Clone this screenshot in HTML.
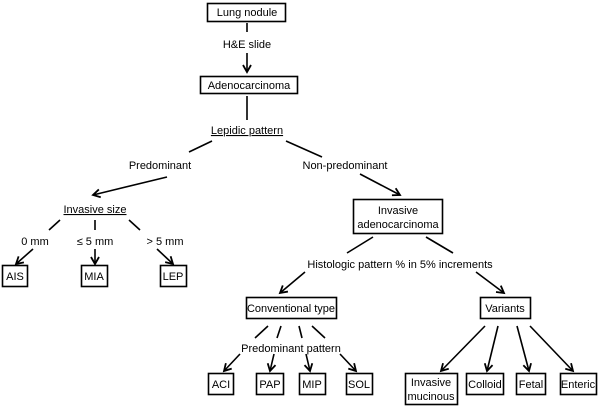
<!DOCTYPE html>
<html><head><style>
html,body{margin:0;padding:0;background:#fff;}
svg text{font-family:"Liberation Sans",Arial,sans-serif;font-size:11px;fill:#000;}
</style></head><body>
<svg width="600" height="408" viewBox="0 0 600 408" xmlns="http://www.w3.org/2000/svg">
<defs>
<marker id="a" markerWidth="10" markerHeight="10" refX="8" refY="5" orient="auto" markerUnits="userSpaceOnUse">
<path d="M1,1 L8,5 L1,9" fill="none" stroke="#000" stroke-width="1.8"/>
</marker>
</defs>
<g fill="none" stroke="#000" stroke-width="1.6">
<rect x="207.5" y="3.5" width="78" height="18"/>
<rect x="200.5" y="76.5" width="97" height="17"/>
<rect x="353.5" y="199.5" width="89" height="34"/>
<rect x="2.5" y="265.5" width="25" height="21"/>
<rect x="81.5" y="265.5" width="26" height="21"/>
<rect x="160.5" y="265.5" width="26" height="21"/>
<rect x="246.5" y="297.5" width="90" height="21"/>
<rect x="480.5" y="297.5" width="50" height="21"/>
<rect x="208.5" y="373.5" width="25" height="21"/>
<rect x="256.5" y="373.5" width="27" height="21"/>
<rect x="299.5" y="373.5" width="26" height="21"/>
<rect x="346.5" y="373.5" width="26" height="21"/>
<rect x="405.5" y="373.5" width="52" height="31"/>
<rect x="466.5" y="373.5" width="37" height="21"/>
<rect x="516.5" y="373.5" width="29" height="21"/>
<rect x="560.5" y="373.5" width="36" height="21"/>
</g>
<g stroke="#000" stroke-width="1.6" fill="none">
<line x1="247" y1="23" x2="247" y2="32"/>
<line x1="247" y1="53" x2="247" y2="72" marker-end="url(#a)"/>
<line x1="247" y1="96" x2="247" y2="120"/>
<line x1="212" y1="141" x2="189" y2="152"/>
<line x1="167" y1="177" x2="93" y2="195" marker-end="url(#a)"/>
<line x1="286" y1="141" x2="322" y2="157"/>
<line x1="360" y1="174" x2="400" y2="195" marker-end="url(#a)"/>
<line x1="60" y1="220" x2="49" y2="230"/>
<line x1="33" y1="249" x2="16" y2="264" marker-end="url(#a)"/>
<line x1="95" y1="220" x2="95" y2="230"/>
<line x1="95" y1="249" x2="95" y2="264" marker-end="url(#a)"/>
<line x1="129" y1="220" x2="140" y2="230"/>
<line x1="157" y1="249" x2="173" y2="264" marker-end="url(#a)"/>
<line x1="373" y1="237" x2="347" y2="253"/>
<line x1="426" y1="237" x2="453" y2="253"/>
<line x1="305" y1="272" x2="280" y2="293" marker-end="url(#a)"/>
<line x1="476" y1="272" x2="504" y2="293" marker-end="url(#a)"/>
<line x1="268" y1="326" x2="255" y2="338"/>
<line x1="281" y1="326" x2="277" y2="338"/>
<line x1="299" y1="326" x2="302" y2="338"/>
<line x1="312" y1="326" x2="325" y2="338"/>
<line x1="240" y1="354" x2="224" y2="371" marker-end="url(#a)"/>
<line x1="274" y1="354" x2="270" y2="371" marker-end="url(#a)"/>
<line x1="306" y1="354" x2="310" y2="371" marker-end="url(#a)"/>
<line x1="340" y1="354" x2="356" y2="371" marker-end="url(#a)"/>
<line x1="485" y1="326" x2="441" y2="371" marker-end="url(#a)"/>
<line x1="498" y1="326" x2="487" y2="371" marker-end="url(#a)"/>
<line x1="517" y1="326" x2="529" y2="371" marker-end="url(#a)"/>
<line x1="530" y1="326" x2="573" y2="371" marker-end="url(#a)"/>
</g>
<g text-anchor="middle">
<text x="247" y="16">Lung nodule</text>
<text x="247" y="48">H&amp;E slide</text>
<text x="249" y="89">Adenocarcinoma</text>
<text x="247" y="134" text-decoration="underline">Lepidic pattern</text>
<text x="160" y="169">Predominant</text>
<text x="345" y="169">Non-predominant</text>
<text x="398" y="214">Invasive</text>
<text x="398" y="228">adenocarcinoma</text>
<text x="95" y="213" text-decoration="underline">Invasive size</text>
<text x="35" y="245">0  mm</text>
<text x="95" y="245">≤ 5 mm</text>
<text x="165" y="245">&gt; 5 mm</text>
<text x="15" y="280">AIS</text>
<text x="94" y="280">MIA</text>
<text x="173" y="280">LEP</text>
<text x="400" y="268">Histologic pattern % in 5% increments</text>
<text x="291" y="312">Conventional type</text>
<text x="505" y="312">Variants</text>
<text x="291" y="352">Predominant pattern</text>
<text x="221" y="388">ACI</text>
<text x="270" y="388">PAP</text>
<text x="312" y="388">MIP</text>
<text x="359" y="388">SOL</text>
<text x="431" y="386">Invasive</text>
<text x="431" y="400">mucinous</text>
<text x="485" y="388">Colloid</text>
<text x="531" y="388">Fetal</text>
<text x="578" y="388">Enteric</text>
</g>
</svg>
</body></html>
